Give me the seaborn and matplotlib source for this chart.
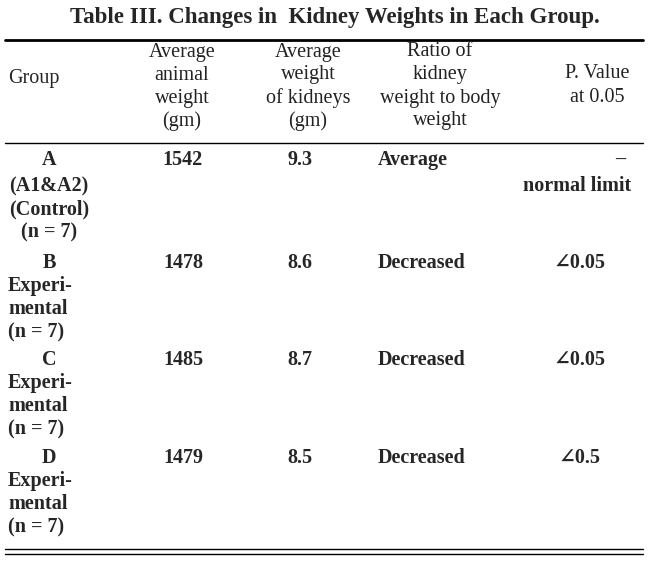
import matplotlib
matplotlib.use("Agg")
import matplotlib.pyplot as plt
import seaborn as sns

sns.set_theme(style="white")
plt.rcParams['font.family'] = ['Liberation Serif', 'DejaVu Serif']

title = "Table III. Changes in  Kidney Weights in Each Group."
headers = [["Group"], ["Average", "animal", "weight", "(gm)"],
           ["Average", "weight", "of kidneys", "(gm)"],
           ["Ratio of", "kidney", "weight to body", "weight"],
           ["P. Value", "at 0.05"]]
group_letters = ["A", "B", "C", "D"]
group_sub = [["(A1&A2)", "(Control)", "(n = 7)"],
             ["Experi-", "mental", "(n = 7)"],
             ["Experi-", "mental", "(n = 7)"],
             ["Experi-", "mental", "(n = 7)"]]
animal_weight = [1542, 1478, 1485, 1479]
kidney_weight = [9.3, 8.6, 8.7, 8.5]
ratio = ["Average", "Decreased", "Decreased", "Decreased"]
pvalue = ["–", "∠0.05", "∠0.05", "∠0.5"]

W, H = 650, 565
fig = plt.figure(figsize=(6.5, 5.65), dpi=100)
ax = fig.add_axes([0, 0, 1, 1])
ax.set_xlim(0, W); ax.set_ylim(H, 0); ax.axis("off")

fs = 14.5
ax.text(335, 18, title, ha="center", va="center", fontsize=16.5, fontweight="bold")
ax.plot([5, 643], [40, 40], color="black", lw=2)
ax.plot([5, 643], [143, 143], color="black", lw=1)
ax.plot([5, 643], [549, 549], color="black", lw=1)
ax.plot([5, 643], [554, 554], color="black", lw=1)

ax.text(8, 78, headers[0][0], ha="left", va="center", fontsize=fs)
hx = [182, 308, 440]
for x, h in zip(hx, headers[1:4]):
    for i, line in enumerate(h):
        ax.text(x, 52 + i * 23, line, ha="center", va="center", fontsize=fs, color="#222")
for i, line in enumerate(headers[4]):
    ax.text(597, 74 + i * 23, line, ha="center", va="center", fontsize=fs, color="#222")

row_y = [160, 263, 360, 458]
for k, y in enumerate(row_y):
    ax.text(49, y, group_letters[k], ha="center", va="center", fontsize=fs, fontweight="bold")
    for i, s in enumerate(group_sub[k]):
        if k == 0:
            ax.text(49, y + 26 + i * 23, s, ha="center", va="center", fontsize=fs, fontweight="bold")
        else:
            ax.text(8, y + 23 + i * 23, s, ha="left", va="center", fontsize=fs, fontweight="bold")
    ax.text(183, y, f"{animal_weight[k]}", ha="center", va="center", fontsize=fs, fontweight="bold")
    ax.text(300, y, f"{kidney_weight[k]}", ha="center", va="center", fontsize=fs, fontweight="bold")
    ax.text(378, y, ratio[k], ha="left", va="center", fontsize=fs, fontweight="bold")
    if k == 0:
        ax.text(620, y, pvalue[k], ha="center", va="center", fontsize=fs, fontweight="bold")
        ax.text(577, y + 26, "normal limit", ha="center", va="center", fontsize=fs, fontweight="bold")
    else:
        ax.text(580, y, pvalue[k], ha="center", va="center", fontsize=fs, fontweight="bold")

fig.savefig("out.png", dpi=100, facecolor="white")
